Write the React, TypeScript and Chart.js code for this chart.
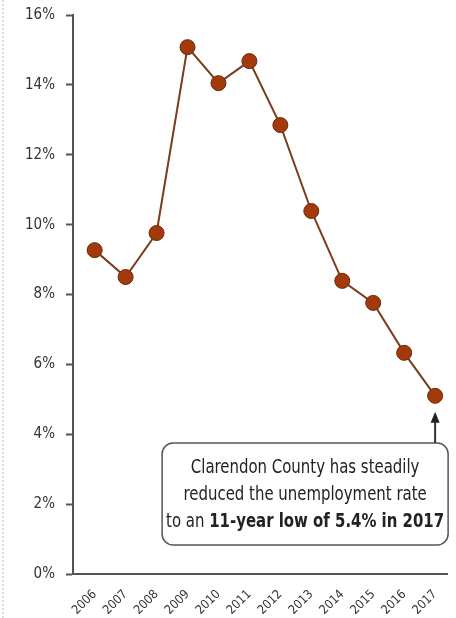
import React, { useEffect, useRef } from "react";
import { Chart, registerables } from "chart.js";

Chart.register(...registerables);

const years = [2006, 2007, 2008, 2009, 2010, 2011, 2012, 2013, 2014, 2015, 2016, 2017];
const rates = [9.27, 8.5, 9.76, 15.08, 14.05, 14.68, 12.85, 10.39, 8.39, 7.76, 6.33, 5.1];
const yTickValues = [0, 2, 4, 6, 8, 10, 12, 14, 16];
const noteLines = [
  [{ t: "Clarendon County has steadily", b: false }],
  [{ t: "reduced the unemployment rate", b: false }],
  [
    { t: "to an ", b: false },
    { t: "11-year low of 5.4% in 2017", b: true },
  ],
];

const FONT = "'Liberation Sans Narrow', 'DejaVu Sans Condensed', 'Roboto', sans-serif";

const notePlugin = {
  id: "note",
  afterDraw(chart: any) {
    const ctx = chart.ctx;
    const xs = chart.scales.x;
    const ys = chart.scales.y;
    const lastX = xs.getPixelForValue(years[years.length - 1]);
    const lastY = ys.getPixelForValue(rates[rates.length - 1]);
    const right = lastX + 13;
    const left = right - 286;
    const top = ys.getPixelForValue(3.75);
    const bottom = ys.getPixelForValue(0.83);
    ctx.save();
    // box
    const r = 11;
    ctx.beginPath();
    ctx.moveTo(left + r, top);
    ctx.lineTo(right - r, top);
    ctx.arcTo(right, top, right, top + r, r);
    ctx.lineTo(right, bottom - r);
    ctx.arcTo(right, bottom, right - r, bottom, r);
    ctx.lineTo(left + r, bottom);
    ctx.arcTo(left, bottom, left, bottom - r, r);
    ctx.lineTo(left, top + r);
    ctx.arcTo(left, top, left + r, top, r);
    ctx.closePath();
    ctx.fillStyle = "#ffffff";
    ctx.fill();
    ctx.lineWidth = 1.5;
    ctx.strokeStyle = "#555555";
    ctx.stroke();
    // arrow
    const tipY = lastY + 16;
    ctx.beginPath();
    ctx.moveTo(lastX, top);
    ctx.lineTo(lastX, tipY + 8);
    ctx.lineWidth = 2;
    ctx.strokeStyle = "#333333";
    ctx.stroke();
    ctx.beginPath();
    ctx.moveTo(lastX, tipY);
    ctx.lineTo(lastX - 4.5, tipY + 11);
    ctx.lineTo(lastX + 4.5, tipY + 11);
    ctx.closePath();
    ctx.fillStyle = "#222222";
    ctx.fill();
    // text
    const cx = (left + right) / 2;
    const size = 19;
    const widths = noteLines.map((parts) => {
      let total = 0;
      parts.forEach((p) => {
        ctx.font = `${p.b ? "bold " : ""}${size}px ${FONT}`;
        total += ctx.measureText(p.t).width;
      });
      return total;
    });
    const maxW = Math.max(...widths);
    const k = Math.min(1, (right - left - 8) / maxW);
    ctx.textBaseline = "alphabetic";
    ctx.textAlign = "left";
    ctx.fillStyle = "#222222";
    noteLines.forEach((parts, i) => {
      const y = top + 30 + i * 27;
      ctx.save();
      ctx.translate(cx, y);
      ctx.scale(k, 1);
      let x = -widths[i] / 2;
      parts.forEach((p) => {
        ctx.font = `${p.b ? "bold " : ""}${size}px ${FONT}`;
        ctx.fillText(p.t, x, 0);
        x += ctx.measureText(p.t).width;
      });
      ctx.restore();
    });
    ctx.restore();
  },
};

export default function App() {
  const ref = useRef<HTMLCanvasElement | null>(null);
  useEffect(() => {
    document.body.style.margin = "0";
    if (!ref.current) return;
    const chart = new Chart(ref.current, {
      type: "line",
      data: {
        datasets: [
          {
            data: years.map((y, i) => ({ x: y, y: rates[i] })),
            borderColor: "#7a3d1e",
            borderWidth: 2,
            pointRadius: 7.5,
            pointBackgroundColor: "#a33a0c",
            pointBorderColor: "#6a2a0a",
            pointBorderWidth: 1,
            tension: 0,
          },
        ],
      },
      options: {
        animation: false,
        responsive: true,
        maintainAspectRatio: false,
        layout: { padding: { top: 15, right: 8, left: 0, bottom: 0 } },
        plugins: { legend: { display: false }, tooltip: { enabled: false } },
        scales: {
          x: {
            type: "linear",
            min: 2005.3,
            max: 2017.4,
            afterBuildTicks: (s: any) => {
              s.ticks = years.map((v) => ({ value: v }));
            },
            afterFit: (s: any) => {
              s.height = 44;
              s.paddingLeft = 0;
              s.paddingRight = 0;
            },
            grid: { display: false, drawTicks: false },
            border: { color: "#555555", width: 2 },
            ticks: {
              autoSkip: false,
              maxRotation: 45,
              minRotation: 45,
              padding: 13,
              color: "#333333",
              font: { family: FONT, size: 12.5 },
              callback: (v: any) => String(v),
            },
          },
          y: {
            min: 0,
            max: 16,
            afterBuildTicks: (s: any) => {
              s.ticks = yTickValues.map((v) => ({ value: v }));
            },
            afterFit: (s: any) => {
              s.width = 73;
              s.paddingTop = 0;
              s.paddingBottom = 0;
            },
            grid: { drawOnChartArea: false, tickLength: 7, color: "#555555", tickWidth: 2 },
            border: { color: "#555555", width: 2 },
            ticks: {
              padding: 11,
              color: "#333333",
              font: { family: FONT, size: 15 },
              callback: (v: any) => v + "%",
            },
          },
        },
      },
      plugins: [notePlugin],
    } as any);
    return () => chart.destroy();
  }, []);
  return (
    <div style={{ position: "relative", width: 456, height: 618 }}>
      <div
        style={{
          position: "absolute",
          left: 2,
          top: 0,
          width: 0,
          height: 618,
          borderLeft: "2px dotted #dddddd",
        }}
      />
      <canvas ref={ref} />
    </div>
  );
}
